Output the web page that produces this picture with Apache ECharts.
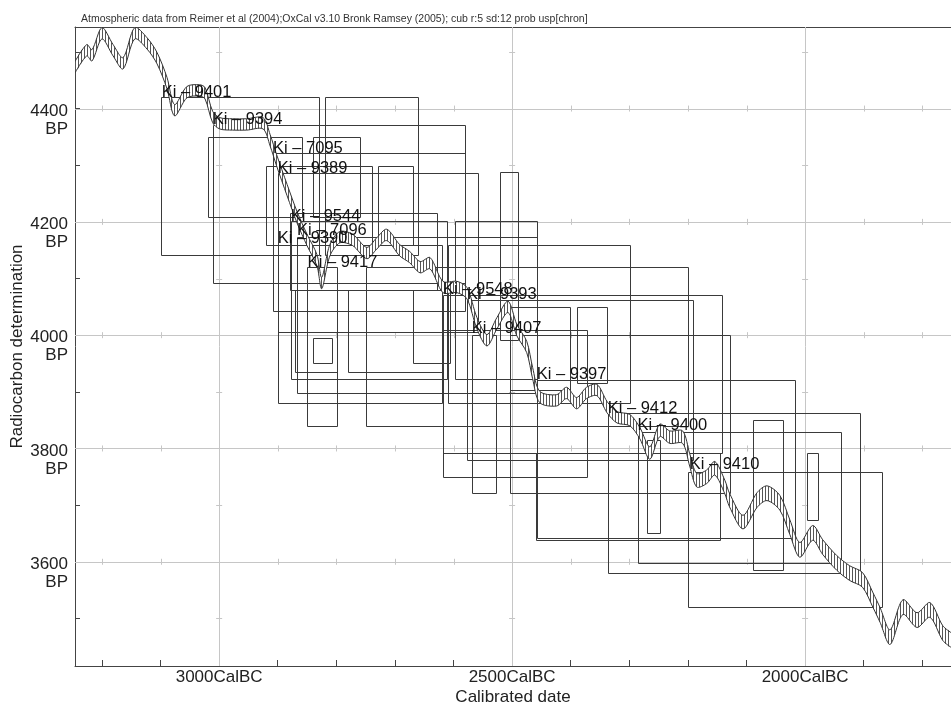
<!DOCTYPE html>
<html><head><meta charset="utf-8">
<script src="https://cdn.jsdelivr.net/npm/echarts@6/dist/echarts.min.js"></script>
<style>html,body{margin:0;padding:0;background:#fff}#c{width:951px;height:706px}</style>
</head><body><div id="c"></div>
<script>
// Calibration curve (years BC, radiocarbon BP, 1-sigma BP)
const curveYearBC = [3246,3226,3217,3200,3181,3164,3144,3123,3106,3089,3076,3055,3033,3024,3011,2999,2977,2953,2925,2913,2902,2884,2867,2850,2833,2825,2811,2794,2772,2748,2731,2714,2692,2675,2657,2640,2618,2594,2577,2560,2543,2526,2507,2492,2475,2465,2453,2424,2407,2390,2373,2355,2338,2321,2299,2282,2265,2248,2231,2209,2197,2185,2168,2154,2137,2129,2106,2082,2065,2043,2026,2009,1987,1970,1946,1924,1902,1884,1872,1855,1833,1809,1787,1765,1751];
const curveBP = [4473,4503,4494,4533,4503,4480,4533,4515,4489,4445,4397,4429,4432,4427,4385,4374,4372,4372,4374,4344,4309,4256,4208,4168,4132,4092,4150,4173,4168,4145,4162,4177,4150,4138,4120,4127,4085,4085,4074,4021,3991,4021,4050,4009,3979,3933,3891,3885,3898,3880,3898,3903,3873,3855,3850,3827,3792,3832,3820,3820,3780,3744,3750,3765,3732,3709,3670,3709,3721,3704,3661,3621,3651,3626,3598,3580,3568,3532,3506,3467,3520,3497,3515,3474,3462];
const curveSigma = [10,10,10,10,10,10,10,10,10,10,10,10,10,10,10,10,10,10,10,10,10,10,10,10,10,10,10,10,10,10,10,10,10,10,10,10,10,10,10,10,10,10,10,10,10,10,10,10,10,10,10,10,10,10,10,10,11,11,11,11,11,12,12,12,12,12,12,13,13,13,13,13,13,13,13,13,13,13,13,13,13,13,13,13,13];

// Range boxes: [start BC, end BC, top BP, bottom BP]
const rangeBoxes = [
  [3099,2830,4420,4141],[2820,2661,4420,4141],[3019,2859,4350,4208],[2840,2760,4350,4208],
  [3011,2581,4371,4092],[2920,2739,4298,4159],[2729,2669,4298,4159],[2908,2581,4321,4042],
  [2900,2559,4286,4005],[2521,2490,4288,3991],[2879,2629,4215,4080],
  [2878,2611,4201,3923],[2598,2458,4201,3923],[2867,2458,4173,3898],
  [2900,2620,4159,3880],[2610,2298,4159,3880],
  [2850,2799,4120,3840],[2750,2200,4120,3840],
  [2618,2141,4071,3792],[2618,2373,4009,3750],[2577,2192,4062,3780],
  [2569,2528,4000,3721],[2504,2128,4000,3721],
  [2458,2018,3921,3642],[2337,1907,3863,3580],[2286,1938,3829,3598],[2200,1868,3758,3520],
  [2089,2038,3850,3585],[1997,1978,3792,3674],[2269,2248,3815,3651],[2460,2146,3792,3638],
  [2390,2338,4050,3916],[2840,2808,3995,3951],[2871,2799,4080,3935],[2504,2402,4050,3903],
  [2780,2620,4080,3935],[2669,2606,4080,3951]
];

// Sample labels
const labelNames = ['Ki – 9401','Ki – 9394','Ki – 7095','Ki – 9389','Ki – 9544','Ki – 7096','Ki – 9390','Ki – 9417','Ki – 9548','Ki – 9393','Ki – 9407','Ki – 9397','Ki – 9412','Ki – 9400','Ki – 9410'];
const labelYearBC = [3098,3011,2908,2900,2878,2867,2900,2849,2618,2577,2569,2458,2337,2286,2197];
const labelBP = [4429,4380,4330,4295,4210,4185,4170,4129,4081,4071,4011,3930,3871,3841,3771];

// Axis ticks
const xLabelYears = [3000,2500,2000];
const xMinorYears = [3200,3100,3000,2900,2800,2700,2600,2500,2400,2300,2200,2100,2000,1900,1800];
const yLabelBP = [3600,3800,4000,4200,4400];
const yMinorBP = [3500,3600,3700,3800,3900,4000,4100,4200,4300,4400,4500];

const FONT = '"Liberation Sans", Arial, sans-serif';
const chart = echarts.init(document.getElementById('c'), null, {renderer:'canvas'});

// hatch pattern
const pc = document.createElement('canvas');
pc.width = 3; pc.height = 4;
const pctx = pc.getContext('2d');
pctx.fillStyle = '#ffffff'; pctx.fillRect(0,0,3,4);
pctx.fillStyle = '#555555'; pctx.fillRect(0,0,1,4);
const hatch = {image: pc, repeat: 'repeat'};

// grid decoration items: [kind, x, y]
const gridItems = [];
xLabelYears.forEach(v => gridItems.push([0, -v, 4000]));
yLabelBP.forEach(v => gridItems.push([1, -2500, v]));
yLabelBP.forEach(b => xMinorYears.forEach(v => { if (xLabelYears.indexOf(v) < 0) gridItems.push([2, -v, b]); }));
xLabelYears.forEach(v => yMinorBP.forEach(b => { if (yLabelBP.indexOf(b) < 0) gridItems.push([3, -v, b]); }));

const option = {
  animation: false,
  backgroundColor: '#fff',
  title: {
    text: 'Atmospheric data from Reimer et al (2004);OxCal v3.10 Bronk Ramsey (2005); cub r:5 sd:12 prob usp[chron]',
    left: 76, top: 9,
    textStyle: {fontSize: 10.5, fontWeight: 'normal', color: '#333', fontFamily: FONT}
  },
  grid: {left: 75, right: 0, top: 27, bottom: 40, containLabel: false, outerBoundsMode: 'none'},
  xAxis: [{
    type: 'value', min: -3246, max: -1751, position: 'bottom',
    axisLine: {show: true, onZero: false, lineStyle: {color: '#444', width: 1}},
    axisTick: {show: true, inside: true, length: 6, customValues: xMinorYears.map(v => -v), lineStyle: {color: '#444'}},
    axisLabel: {customValues: xLabelYears.map(v => -v), formatter: v => (-v) + 'CalBC', fontSize: 17, color: '#222', fontFamily: FONT, margin: 3},
    splitLine: {show: false},
    name: 'Calibrated date', nameLocation: 'middle', nameGap: 23, nameMoveOverlap: false,
    nameTextStyle: {fontSize: 17, color: '#222', fontFamily: FONT}
  }, {
    type: 'value', min: -3246, max: -1751, position: 'top',
    axisLine: {show: true, onZero: false, lineStyle: {color: '#444', width: 1}},
    axisTick: {show: false}, axisLabel: {show: false}, splitLine: {show: false}
  }],
  yAxis: [{
    type: 'value', min: 3416, max: 4544,
    axisLine: {show: true, onZero: false, lineStyle: {color: '#444', width: 1}},
    axisTick: {show: true, inside: true, length: 5, customValues: yMinorBP, lineStyle: {color: '#444'}},
    axisLabel: {customValues: yLabelBP, formatter: v => '{s| }\n{v|' + v + '}\n{v|BP}', color: '#222', margin: 7, align: 'right',
      rich: {s: {lineHeight: 23, fontSize: 10}, v: {fontSize: 17, lineHeight: 18, fontFamily: FONT, color: '#222', align: 'right'}}},
    splitLine: {show: false},
    name: 'Radiocarbon determination', nameLocation: 'middle', nameGap: 49, nameMoveOverlap: false,
    nameTextStyle: {fontSize: 17, color: '#222', fontFamily: FONT}
  }],
  series: [
    {
      type: 'custom', name: 'grid', silent: true, z: 1,
      encode: {x: 1, y: 2},
      data: gridItems,
      renderItem: function (params, api) {
        const cs = params.coordSys;
        const kind = api.value(0);
        const p = api.coord([api.value(1), api.value(2)]);
        const st = {stroke: '#c6c6c6', lineWidth: 1};
        let shape;
        if (kind === 0) { const x = Math.round(p[0]) + 0.5; shape = {x1: x, y1: cs.y, x2: x, y2: cs.y + cs.height}; }
        else if (kind === 1) { const y = Math.round(p[1]) + 0.5; shape = {x1: cs.x, y1: y, x2: cs.x + cs.width, y2: y}; }
        else if (kind === 2) { const x = Math.round(p[0]) + 0.5; shape = {x1: x, y1: p[1] - 3, x2: x, y2: p[1] + 3}; }
        else { const y = Math.round(p[1]) + 0.5; shape = {x1: p[0] - 3, y1: y, x2: p[0] + 3, y2: y}; }
        return {type: 'line', shape: shape, style: st};
      }
    },
    {
      type: 'custom', name: 'ranges', silent: true, z: 2,
      encode: {x: [0, 1], y: [2, 3]},
      data: rangeBoxes.map(b => [-b[0], -b[1], b[2], b[3]]),
      renderItem: function (params, api) {
        const p1 = api.coord([api.value(0), api.value(2)]);
        const p2 = api.coord([api.value(1), api.value(3)]);
        const x1 = Math.round(p1[0]) + 0.5, y1 = Math.round(p1[1]) + 0.5;
        const x2 = Math.round(p2[0]) + 0.5, y2 = Math.round(p2[1]) + 0.5;
        return {type: 'rect', shape: {x: x1, y: y1, width: x2 - x1, height: y2 - y1},
          style: {fill: null, stroke: '#3a3a3a', lineWidth: 1}};
      }
    },
    {
      type: 'custom', name: 'curve', silent: true, z: 3, clip: true,
      encode: {x: 0, y: 1},
      data: [[-curveYearBC[0], curveBP[0]]],
      renderItem: function (params, api) {
        const up = [], lo = [];
        for (let i = 0; i < curveYearBC.length; i++) {
          up.push(api.coord([-curveYearBC[i], curveBP[i] + curveSigma[i]]));
          lo.push(api.coord([-curveYearBC[i], curveBP[i] - curveSigma[i]]));
        }
        const poly = up.concat(lo.slice().reverse());
        return {type: 'group', children: [
          {type: 'polygon', shape: {points: poly, smooth: 0.3}, style: {fill: hatch, stroke: null}},
          {type: 'polyline', shape: {points: up, smooth: 0.3}, style: {fill: null, stroke: '#333', lineWidth: 1}},
          {type: 'polyline', shape: {points: lo, smooth: 0.3}, style: {fill: null, stroke: '#333', lineWidth: 1}}
        ]};
      }
    },
    {
      type: 'custom', name: 'labels', silent: true, z: 4,
      encode: {x: 0, y: 1},
      data: labelNames.map((n, i) => [-labelYearBC[i], labelBP[i]]),
      renderItem: function (params, api) {
        const p = api.coord([api.value(0), api.value(1)]);
        return {type: 'text', x: p[0], y: p[1], style: {text: labelNames[params.dataIndex], font: '16.5px ' + FONT, fill: '#111', align: 'left', verticalAlign: 'middle'}};
      }
    }
  ]
};
chart.setOption(option);
</script></body></html>
